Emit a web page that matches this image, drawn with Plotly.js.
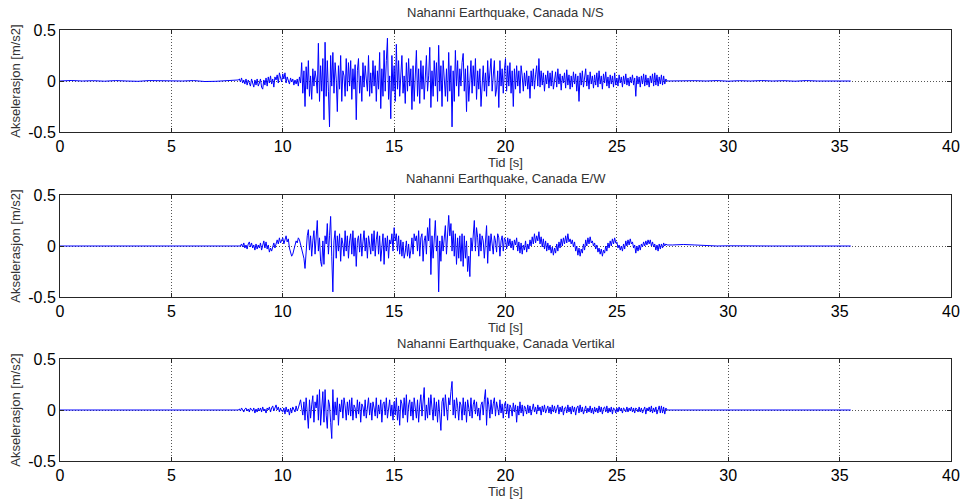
<!DOCTYPE html>
<html>
<head>
<meta charset="utf-8">
<script src="https://cdn.plot.ly/plotly-3.0.1.min.js"></script>
<style>html,body{margin:0;padding:0;background:#fff;}#chart{width:961px;height:501px;}</style>
</head>
<body>
<div id="chart"></div>
<script>
// ---- data ----
var titles = ["Nahanni Earthquake, Canada N/S", "Nahanni Earthquake, Canada E/W", "Nahanni Earthquake, Canada Vertikal"];
var xTickVals = [0, 5, 10, 15, 20, 25, 30, 35, 40];
var xTickText = ["0", "5", "10", "15", "20", "25", "30", "35", "40"];
var yTickVals = [-0.5, 0, 0.5];
var yTickText = ["-0.5", "0", "0.5"];
var xTitle = "Tid [s]";
var yTitle = "Akselerasjon [m/s2]";

// quiet lead-in, 0.0 .. 7.5 s every 0.5 s
var preStart = 0, preStep = 0.5;
// strong motion, 8.00 .. 27.25 s every 0.05 s
var mainStart = 8, mainStep = 0.05;
// quiet tail, 27.5 .. 35.5 s every 0.5 s
var postStart = 27.5, postStep = 0.5;

var nsPre = [0, 0.005, 0, 0.003, -0.002, 0.004, 0, -0.003, 0.004, 0.002, 0.003, 0, 0.004, -0.005, -0.003, 0.004];
var nsMain = [
 0.01,0.02,-0.01,0.03,-0.02,0.01,-0.03,0.02,-0.04,0.01,-0.02,-0.05,0.02,-0.03,-0.06,0.01,-0.04,0.02,-0.05,-0.02,
 0.02,-0.06,-0.08,0.01,-0.04,0.03,-0.05,0.04,-0.02,0.05,-0.03,0.02,-0.06,0.04,0.01,0.06,-0.02,0.08,0.03,-0.01,
 0.07,0.02,0.08,-0.02,0.04,0.01,-0.03,0.03,-0.01,0.02,-0.04,0.01,-0.03,0.02,-0.05,0.04,-0.02,0.18,-0.12,0.1,
 -0.25,0.14,-0.08,0.2,-0.15,0.05,-0.18,0.12,-0.05,0.1,0.02,-0.12,0.37,-0.2,0.15,-0.1,0.22,-0.38,0.38,-0.15,
 0.2,-0.1,-0.45,0.25,-0.05,0.28,-0.12,0.18,0.02,-0.3,0.15,-0.08,0.25,-0.2,0.1,0.05,-0.15,0.22,-0.1,0.18,
 -0.05,0.2,-0.18,0.12,-0.08,0.16,-0.38,0.1,0.22,-0.12,0.05,-0.2,0.18,-0.06,0.15,0.02,-0.1,0.25,-0.15,0.08,
 -0.12,0.2,-0.05,0.15,-0.2,0.1,-0.08,0.28,-0.27,0.12,-0.15,0.3,-0.1,0.2,0.42,-0.18,0.05,-0.37,0.25,-0.1,
 0.15,-0.2,0.36,-0.08,0.2,-0.15,0.1,0.25,-0.12,0.05,-0.22,0.18,-0.1,0.22,-0.05,0.12,-0.28,0.15,-0.2,0.1,
 0.3,-0.15,0.12,-0.22,0.2,-0.08,0.15,-0.18,0.1,0.25,-0.1,0.05,0.33,-0.26,0.1,-0.15,0.2,-0.05,0.18,-0.2,
 0.35,-0.1,0.15,-0.25,0.2,0.05,-0.15,0.12,-0.2,0.28,-0.1,0.15,-0.45,0.1,-0.2,0.3,-0.05,0.2,-0.15,0.12,
 -0.05,0.18,0.27,-0.1,0.12,-0.3,0.15,-0.2,0.08,0.2,-0.12,0.15,-0.05,0.22,-0.18,0.1,-0.08,0.12,-0.25,0.05,
 0.15,-0.1,0.08,-0.15,0.2,-0.05,0.12,0.22,-0.1,0.05,0.2,-0.15,-0.08,0.1,-0.26,0.2,-0.05,0.12,-0.12,0.1,
 0.22,-0.1,0.15,-0.05,0.18,-0.12,0.1,-0.25,0.12,-0.08,0.15,-0.05,0.1,-0.12,0.15,0.05,-0.1,0.08,-0.05,0.1,
 -0.08,0.05,-0.17,0.1,-0.05,0.12,-0.08,0.06,0.15,-0.05,0.22,-0.06,0.1,-0.04,0.08,-0.1,0.06,-0.03,0.1,-0.07,
 0.08,-0.05,0.1,-0.08,0.04,0.09,-0.06,0.12,-0.03,0.07,-0.09,0.05,-0.02,0.08,-0.07,0.11,-0.04,0.06,-0.08,0.05,
 -0.06,0.09,-0.03,0.07,-0.1,0.05,-0.2,0.08,-0.04,0.1,-0.06,0.04,0.12,-0.05,0.06,-0.08,0.09,-0.03,0.05,-0.07,
 0.06,-0.04,0.08,-0.06,0.1,-0.03,0.05,-0.08,0.07,-0.02,0.09,-0.05,0.04,-0.07,0.06,-0.03,0.05,-0.06,0.08,-0.04,
 0.03,-0.05,0.06,-0.02,0.04,-0.06,0.05,-0.03,0.07,-0.04,0.03,-0.05,0.04,-0.02,0.06,-0.04,0.03,-0.15,0.05,-0.03,
 0.04,-0.06,0.05,-0.03,0.07,-0.05,0.06,-0.04,0.03,-0.06,0.05,-0.02,0.07,-0.05,0.08,-0.04,0.06,-0.05,0.04,-0.03,
 0.06,-0.04,0.05,-0.03,0.02,0
];
var nsPost = [0.002, 0, 0.003, 0, 0.004, -0.002, 0.003, 0, 0.004, 0, 0.003, -0.002, 0.004, 0, 0.003, 0, 0];

var ewPre = [0, 0, 0, 0, 0, 0, 0, 0, 0, 0, 0, 0, 0, 0, -0.003, 0];
var ewMain = [
 0,0,0,0.02,-0.01,0.03,-0.02,0.01,-0.03,0.02,0.04,-0.01,0.03,-0.02,0.01,-0.04,0.02,-0.03,0.01,-0.02,
 0.03,-0.04,0.02,0.05,-0.02,0.04,-0.03,0.01,-0.06,-0.02,-0.05,0.01,0.03,-0.02,0.04,0.06,0.02,0.08,0.03,0.05,
 0.08,0.02,0.05,0.1,0.04,0.07,-0.02,-0.06,-0.1,-0.08,-0.03,0.02,0.05,0.03,0.08,0.06,0.01,-0.05,-0.1,-0.12,
 -0.22,-0.05,0.1,0.16,-0.04,0.1,-0.1,0.05,0.15,-0.08,0.12,0.25,-0.05,0.08,-0.15,-0.2,0.05,-0.18,0.1,0.02,
 0.22,-0.08,0.1,0.29,-0.1,-0.45,0.05,0.15,-0.12,0.1,-0.05,0.12,-0.15,0.08,0.02,-0.1,0.15,-0.05,0.1,-0.12,
 0.05,0.12,-0.08,0.15,-0.1,0.08,-0.2,0.05,0.1,-0.06,0.12,-0.1,0.04,0.15,-0.05,0.08,-0.12,0.1,0.02,-0.08,
 0.12,-0.05,0.15,-0.1,0.06,0.14,-0.08,0.1,-0.15,0.05,0.12,-0.18,0.08,-0.05,0.1,-0.12,0.06,0.02,0.12,-0.05,
 0.18,0.05,0.12,-0.05,0.1,-0.08,0.06,-0.1,0.04,-0.12,-0.06,0.05,-0.1,0.02,-0.12,-0.04,0.08,-0.08,0.12,0.05,
 0.1,-0.05,0.15,-0.1,0.08,0.12,-0.15,0.05,0.1,-0.08,0.18,0.05,0.27,-0.28,0.1,-0.12,0.15,0.25,-0.05,0.1,
 -0.45,0.05,-0.15,0.1,-0.05,0.12,0.2,-0.08,0.15,0.3,0.1,0.22,-0.05,0.15,-0.1,0.12,-0.18,0.08,-0.12,0.1,
 -0.15,0.12,-0.2,0.1,-0.12,0.05,-0.25,-0.1,-0.3,0.08,-0.05,0.15,0.25,-0.05,0.18,0.08,-0.1,0.12,-0.05,0.1,
 0.05,-0.12,0.08,0.2,-0.17,0.1,-0.05,0.12,0.02,-0.08,0.1,0.05,-0.06,0.12,0.08,-0.1,0.05,0.1,-0.05,0.08,
 0.06,-0.03,0.08,0.0,0.07,-0.02,0.05,-0.04,0.06,0.01,0.08,-0.05,0.04,-0.07,0.03,-0.08,0.01,-0.04,0.05,-0.06,
 0.02,-0.03,0.06,0.0,0.09,0.02,0.12,0.03,0.1,0.05,0.14,0.02,0.09,-0.01,0.07,-0.03,0.05,-0.05,0.03,-0.04,
 0.01,-0.07,-0.01,-0.09,-0.02,-0.07,0.02,-0.05,0.04,-0.02,0.07,0.0,0.08,0.02,0.1,0.03,0.12,0.04,0.07,0.02,
 0.06,-0.01,0.04,-0.05,0.0,-0.09,-0.02,-0.1,-0.03,-0.07,0.02,-0.04,0.06,0.0,0.08,0.02,0.09,0.03,0.05,0.0,
 0.03,-0.03,0.01,-0.06,-0.02,-0.08,-0.03,-0.1,-0.04,-0.07,0.0,-0.05,0.03,-0.02,0.05,0.0,0.07,0.02,0.08,0.03,
 0.04,-0.02,0.01,-0.04,0.0,-0.05,0.02,-0.03,0.05,0.0,0.06,0.01,0.07,0.02,0.04,-0.02,0.01,-0.07,0.0,-0.05,
 0.01,-0.04,0.02,-0.01,0.04,0.0,0.05,0.01,0.06,0.02,0.06,0.0,0.04,-0.01,0.02,-0.04,0.01,-0.05,0.02,-0.03,
 0.02,-0.02,0.03,0.0,0.02,0.01
];
var ewPost = [0.01, 0.015, 0.01, 0.004, 0, 0.002, 0, 0, 0, 0, 0, 0, 0, 0, 0, 0, 0];

var vPre = [0, 0, 0, 0, 0, 0, 0, 0, 0, 0, 0, 0, 0, 0, 0, 0];
var vMain = [
 0,0.01,-0.01,0.02,0,-0.02,0.01,0.02,-0.01,0.01,-0.02,0.02,0,-0.01,0.02,-0.03,0.01,-0.02,0.02,-0.01,
 0.02,-0.02,0.03,-0.01,0.01,-0.03,0.02,0.0,0.03,-0.02,0.02,0.04,-0.01,0.02,0.05,0.0,0.03,-0.02,0.02,-0.01,
 -0.02,0.02,-0.04,0.03,-0.02,0.01,-0.05,0.02,-0.03,0.03,0.01,-0.02,0.04,-0.01,0.02,0.06,0.1,0.02,-0.05,0.08,
 -0.1,0.12,-0.05,-0.18,0.1,-0.08,0.05,0.14,-0.12,0.08,0.02,0.15,-0.1,0.2,-0.15,0.05,0.18,-0.12,0.2,-0.05,
 -0.18,0.1,0.05,-0.12,-0.28,0.2,-0.1,0.08,-0.05,0.12,-0.15,0.06,-0.02,0.1,-0.08,0.12,0.04,-0.1,0.08,-0.05,
 0.1,-0.06,0.12,-0.1,0.05,0.02,-0.08,0.1,-0.04,0.08,-0.12,0.06,0.03,-0.06,0.1,-0.08,0.05,0.12,-0.05,0.07,
 -0.1,0.08,0.02,-0.06,0.12,-0.08,0.05,-0.04,0.1,-0.12,0.06,0.08,-0.05,0.12,-0.08,0.03,0.1,-0.06,0.05,-0.1,
 0.08,-0.05,0.12,-0.1,0.04,-0.15,0.1,0.06,-0.08,0.12,-0.05,0.15,-0.12,0.05,0.1,-0.06,0.08,-0.1,0.12,0.02,
 -0.08,0.1,-0.12,0.05,0.15,-0.06,0.1,0.22,-0.1,0.05,-0.08,0.12,-0.05,0.15,0.02,-0.1,0.12,-0.06,0.08,-0.12,
 0.1,-0.05,-0.2,0.08,0.12,-0.06,0.15,0.02,-0.1,0.12,0.05,0.18,0.28,-0.05,0.1,-0.08,0.12,0.04,-0.1,0.08,
 0.05,-0.1,0.12,-0.05,0.08,-0.12,0.1,0.02,-0.06,0.12,-0.08,0.05,0.1,-0.04,0.08,-0.06,0.02,-0.1,0.05,0.08,
 -0.05,0.1,0.2,-0.15,0.12,0.05,-0.08,0.1,-0.04,0.06,0.12,-0.06,0.08,0.02,-0.05,0.1,-0.03,0.06,-0.08,0.05,
 0.08,-0.04,0.06,-0.08,0.05,0.02,-0.06,0.07,-0.02,0.05,-0.12,0.04,-0.05,0.08,-0.03,0.05,-0.06,0.04,0.02,-0.04,
 0.05,-0.03,0.04,-0.05,0.02,0.06,-0.02,0.03,-0.04,0.05,-0.01,0.03,-0.05,0.04,-0.02,0.05,-0.03,0.02,0.04,-0.03,
 0.03,-0.04,0.05,-0.02,0.04,-0.03,0.02,0.05,-0.04,0.03,-0.02,0.04,-0.05,0.02,0.03,-0.03,0.05,-0.02,0.03,-0.04,
 0.04,-0.02,0.03,-0.05,0.02,0.04,-0.03,0.05,-0.02,0.03,-0.04,0.02,0.04,-0.03,0.02,-0.02,0.04,-0.03,0.02,-0.04,
 0.03,-0.02,0.02,-0.03,0.04,-0.02,0.03,-0.04,0.02,0.03,-0.02,0.04,-0.03,0.02,-0.02,0.03,-0.04,0.02,0.01,-0.03,
 0.02,-0.02,0.03,-0.01,0.02,-0.03,0.02,0.01,-0.02,0.03,-0.02,0.02,-0.01,0.03,-0.02,0.02,-0.03,0.02,0.01,-0.02,
 0.03,-0.02,0.02,-0.03,0.01,0.03,-0.04,0.02,-0.01,0.03,-0.02,0.04,-0.03,0.02,-0.02,0.03,-0.04,0.02,0.04,-0.03,
 0.04,-0.03,0.03,-0.04,0.02,0
];
var vPost = [0, 0, 0, 0, 0, 0, 0, 0, 0, 0, 0, 0, 0, 0, 0, 0, 0];

// ---- build series ----
function build(pre, main, post) {
  var x = [], y = [];
  pre.forEach(function (v, i) { x.push(preStart + i * preStep); y.push(v); });
  main.forEach(function (v, i) { x.push(+(mainStart + i * mainStep).toFixed(3)); y.push(v); });
  post.forEach(function (v, i) { x.push(postStart + i * postStep); y.push(v); });
  return {x: x, y: y};
}
var series = [build(nsPre, nsMain, nsPost), build(ewPre, ewMain, ewPost), build(vPre, vMain, vPost)];

var H = 501;
var plotTop = [30, 195, 359];
var plotBottom = [132, 297, 461];
var titleBottom = [21, 187, 352];
var xTitleTop = [154, 319, 483];

var traces = series.map(function (s, i) {
  return {
    x: s.x, y: s.y, type: 'scatter', mode: 'lines',
    xaxis: i === 0 ? 'x' : 'x' + (i + 1),
    yaxis: i === 0 ? 'y' : 'y' + (i + 1),
    line: {color: '#0000ff', width: 1},
    hoverinfo: 'skip', showlegend: false
  };
});

var layout = {
  width: 961, height: 501,
  margin: {l: 60, r: 10, t: 0, b: 0},
  paper_bgcolor: '#ffffff', plot_bgcolor: '#ffffff',
  font: {family: 'Liberation Sans, Arial, sans-serif', color: '#000'},
  showlegend: false,
  annotations: []
};

for (var i = 0; i < 3; i++) {
  var sfx = i === 0 ? '' : String(i + 1);
  layout['xaxis' + sfx] = {
    domain: [0, 1], range: [0, 40], anchor: 'y' + sfx,
    tickvals: xTickVals, ticktext: xTickText,
    ticks: 'inside', ticklen: 4, tickcolor: '#262626',
    showline: true, linecolor: '#262626', linewidth: 1, mirror: 'ticks',
    showgrid: true, gridcolor: '#555555', griddash: '1px,2px', gridwidth: 1,
    zeroline: false,
    tickfont: {size: 16, color: '#000'},
    automargin: false, fixedrange: true
  };
  layout['yaxis' + sfx] = {
    domain: [1 - plotBottom[i] / H, 1 - plotTop[i] / H], range: [-0.5, 0.5], anchor: 'x' + sfx,
    tickvals: yTickVals, ticktext: yTickText,
    ticks: 'inside', ticklen: 4, tickcolor: '#262626',
    showline: true, linecolor: '#262626', linewidth: 1, mirror: 'ticks',
    showgrid: true, gridcolor: '#555555', griddash: '1px,2px', gridwidth: 1,
    zeroline: false,
    tickfont: {size: 16, color: '#000'},
    title: {text: yTitle, font: {size: 13, color: '#333'}, standoff: 4},
    automargin: false, fixedrange: true
  };
  layout.annotations.push({
    text: titles[i], xref: 'paper', yref: 'paper', x: 0.5, y: 1 - titleBottom[i] / H,
    xanchor: 'center', yanchor: 'bottom', showarrow: false, borderpad: 0,
    font: {size: 13, color: '#333'}
  });
  layout.annotations.push({
    text: xTitle, xref: 'paper', yref: 'paper', x: 0.5, y: 1 - xTitleTop[i] / H,
    xanchor: 'center', yanchor: 'top', showarrow: false, borderpad: 0,
    font: {size: 13, color: '#333'}
  });
}

Plotly.newPlot('chart', traces, layout, {staticPlot: true, displayModeBar: false});
</script>
</body>
</html>
